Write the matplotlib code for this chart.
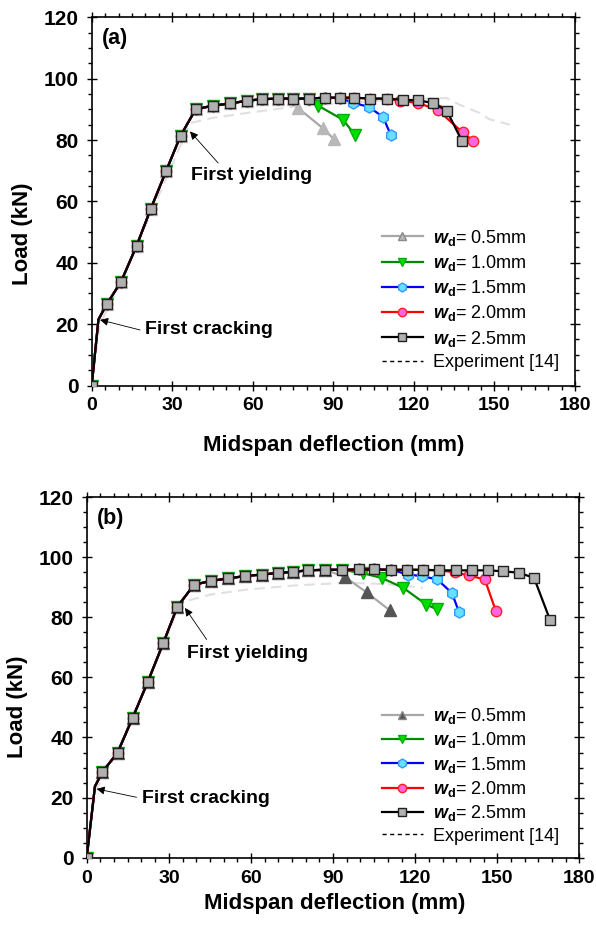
import numpy as np
import matplotlib
matplotlib.use("Agg")
from matplotlib import pyplot as plt
from matplotlib.lines import Line2D
from matplotlib.ticker import MultipleLocator

plt.rcParams['font.family'] = ['Liberation Sans', 'DejaVu Sans']
plt.rcParams['mathtext.fontset'] = 'custom'
plt.rcParams['mathtext.it'] = 'Liberation Sans:bold:italic'
plt.rcParams['mathtext.rm'] = 'Liberation Sans:bold'

########################
# DATA - panel (a)
########################
a_common_x = [0, 2.5, 5.6, 10.9, 16.7, 22.0, 27.7, 33.1, 38.7, 45.1, 51.6, 57.7, 63.5,
              69.3, 75.0, 81.0, 86.7, 92.3, 97.7, 103.6, 109.9, 115.9, 121.6, 127.0,
              132.2, 137.9]
a_common_y = [0, 21.5, 26.5, 33.8, 45.5, 57.6, 69.9, 81.4, 90.0, 91.2, 91.9, 92.8, 93.3,
              93.5, 93.5, 93.5, 93.8, 93.8, 93.8, 93.5, 93.5, 93.1, 92.9, 92.1,
              89.6, 79.7]
# index in the common path where each case leaves it, and its own tail
a_split = [14, 15, 17, 20, 25]
a_tail_x = [[76.9, 86.0, 90.2],
            [84.3, 93.6, 98.1],
            [97.4, 103.2, 108.5, 111.4],
            [115.0, 121.6, 129.0, 138.1, 142.0],
            []]
a_tail_y = [[90.4, 83.9, 80.3],
            [91.2, 86.6, 81.6],
            [92.1, 90.8, 87.5, 81.6],
            [92.7, 92.1, 89.7, 82.5, 79.8],
            []]
a_exp_x = [0, 3, 10, 20, 30, 36.6, 45, 57.7, 75, 90, 110, 132, 137, 144.5, 148, 155.7]
a_exp_y = [0, 20, 32, 52, 72, 85.5, 87.2, 88.8, 90.8, 91.8, 93.0, 93.7, 91.5, 88.8, 86.8, 85.0]

########################
# DATA - panel (b)
########################
b_common_x = [0, 3.0, 5.7, 11.3, 16.8, 22.3, 28.0, 33.1, 39.2, 45.4, 51.6, 57.7, 63.9,
              69.7, 75.2, 80.9, 87.1, 93.3, 99.4, 105.1, 111.2, 117.0, 122.8, 128.6,
              135.0, 140.7, 146.6, 152.0, 157.9, 163.4, 169.2]
b_common_y = [0, 23.7, 28.5, 35.0, 46.6, 58.5, 71.5, 83.5, 90.8, 92.1, 92.9, 93.7, 94.2,
              94.7, 95.1, 95.6, 95.8, 95.8, 95.9, 95.9, 95.8, 95.8, 95.8, 95.6,
              95.6, 95.6, 95.6, 95.3, 94.8, 93.1, 79.2]
b_split = [16, 17, 20, 23, 30]
b_tail_x = [[94.3, 102.2, 110.7],
            [101.0, 107.7, 115.6, 124.1, 128.0],
            [117.4, 122.3, 128.0, 133.4, 136.0],
            [134.4, 139.5, 145.4, 149.4],
            []]
b_tail_y = [[93.4, 88.3, 82.3],
            [94.6, 93.1, 89.8, 84.2, 82.6],
            [94.2, 93.7, 92.6, 88.1, 81.7],
            [95.0, 93.9, 92.6, 82.2],
            []]
b_exp_x = [0, 3, 10, 20, 30, 34, 45, 58.4, 75, 94.9, 110, 122.8]
b_exp_y = [0, 22, 33, 54, 75, 84.8, 87.5, 89.2, 90.5, 91.5, 91.0, 89.8]

widths = ['0.5', '1.0', '1.5', '2.0', '2.5']

# style per case: line colour, marker, face, edge, size
styles = [
    ('#a8a8a8', '^', '#b8b8b8', '#a8a8a8', 8),
    ('#008a00', 'v', '#00e000', '#00b000', 8),
    ('#0000ff', 'h', '#66e0ff', '#3399ff', 8),
    ('#ff0000', 'o', '#ff66dd', '#ff2020', 7.5),
    ('#000000', 's', '#b0b0b0', '#202020', 7),
]

fig = plt.figure(figsize=(5.96, 9.33), dpi=100)
ax_a = fig.add_axes([0.1539, 0.5868, 0.8109, 0.3947])
ax_b = fig.add_axes([0.1455, 0.0807, 0.8268, 0.3866])


def draw_panel(ax, cx, cy, split, tx, ty, ex, ey, label, tri_face, ann):
    ax.plot(ex, ey, '--', color='#e0e0e0', lw=1.5, dashes=(5, 3), zorder=1)
    for i in range(5):
        k = split[i]
        xs = cx[:k + 1] + tx[i]
        ys = cy[:k + 1] + ty[i]
        lc, mk, fc, ec, ms = styles[i]
        if i == 0:
            fc = tri_face
            ec = tri_face
        marks = [j for j in range(len(xs)) if j != 1]
        ax.plot(xs, ys, color=lc, lw=1.6, marker=mk, markersize=ms,
                markerfacecolor=fc, markeredgecolor=ec, markeredgewidth=1.0,
                markevery=marks, zorder=2 + i)

    ax.set_xlim(0, 180)
    ax.set_ylim(0, 120)
    ax.xaxis.set_major_locator(MultipleLocator(30))
    ax.xaxis.set_minor_locator(MultipleLocator(5))
    ax.yaxis.set_major_locator(MultipleLocator(20))
    ax.yaxis.set_minor_locator(MultipleLocator(5))
    ax.tick_params(which='major', direction='inout', length=7, width=1.0,
                   top=True, right=True)
    ax.tick_params(which='minor', direction='out', length=3, width=1.0,
                   top=True, right=True)
    ax.tick_params(axis='x', which='major', labelsize=14, pad=5)
    ax.tick_params(axis='y', which='major', labelsize=15, pad=6)
    for t in ax.get_xticklabels() + ax.get_yticklabels():
        t.set_fontweight('bold')
    for s in ax.spines.values():
        s.set_linewidth(1.2)

    ax.set_xlabel('Midspan deflection (mm)', fontsize=16, fontweight='bold')
    ax.set_ylabel('Load (kN)', fontsize=16, fontweight='bold')

    ax.text(3.7, 113, label, fontsize=15.5, fontweight='bold', va='center', ha='left')

    (yt, yh, ytx), (ct, ch, ctx) = ann
    ax.annotate('First yielding', xy=yh, xytext=ytx, fontsize=14, fontweight='bold',
                va='center', ha='left')
    ax.annotate('', xy=yh, xytext=yt,
                arrowprops=dict(arrowstyle='-|>', color='black', lw=0.6,
                                mutation_scale=12, shrinkA=0, shrinkB=0))
    ax.annotate('First cracking', xy=ch, xytext=ctx, fontsize=14, fontweight='bold',
                va='center', ha='left')
    ax.annotate('', xy=ch, xytext=ct,
                arrowprops=dict(arrowstyle='-|>', color='black', lw=0.6,
                                mutation_scale=12, shrinkA=0, shrinkB=0))

    handles = []
    for i in range(5):
        lc, mk, fc, ec, ms = styles[i]
        if i == 0:
            fc = tri_face
            ec = '#888888'
        handles.append(Line2D([], [], color=lc, lw=1.6, marker=mk, markersize=ms * 0.8,
                              markerfacecolor=fc, markeredgecolor=ec))
    handles.append(Line2D([], [], color='black', lw=1.0, linestyle='--', dashes=(3, 2.5)))
    labels = [r'$w_\mathrm{d}$= ' + w + 'mm' for w in widths] + ['Experiment [14]']
    return handles, labels


h, l = draw_panel(ax_a, a_common_x, a_common_y, a_split, a_tail_x, a_tail_y,
                  a_exp_x, a_exp_y, '(a)', '#b8b8b8',
                  (((47.1, 72.5), (36.6, 82.8), (37.0, 68.3)),
                   ((18.0, 18.1), (3.1, 21.4), (19.8, 18.1))))
ax_a.legend(h, l, loc='upper left', bbox_to_anchor=(0.600, 0.4286), frameon=False,
            borderpad=0, borderaxespad=0, handlelength=2.3, handletextpad=0.55,
            labelspacing=0.29, fontsize=13)
ax_a.xaxis.set_label_coords(0.5, -0.134)
ax_a.yaxis.set_label_coords(-0.121, 0.413)

h, l = draw_panel(ax_b, b_common_x, b_common_y, b_split, b_tail_x, b_tail_y,
                  b_exp_x, b_exp_y, '(b)', '#555555',
                  (((43.8, 72.6), (35.9, 83.1), (36.5, 68.1)),
                   ((18.2, 20.1), (3.6, 22.9), (20.1, 19.8))))
ax_b.legend(h, l, loc='upper left', bbox_to_anchor=(0.5986, 0.4206), frameon=False,
            borderpad=0, borderaxespad=0, handlelength=2.3, handletextpad=0.55,
            labelspacing=0.24, fontsize=13)
ax_b.xaxis.set_label_coords(0.504, -0.098)
ax_b.yaxis.set_label_coords(-0.1186, 0.4186)

plt.savefig('out.png', dpi=100)
